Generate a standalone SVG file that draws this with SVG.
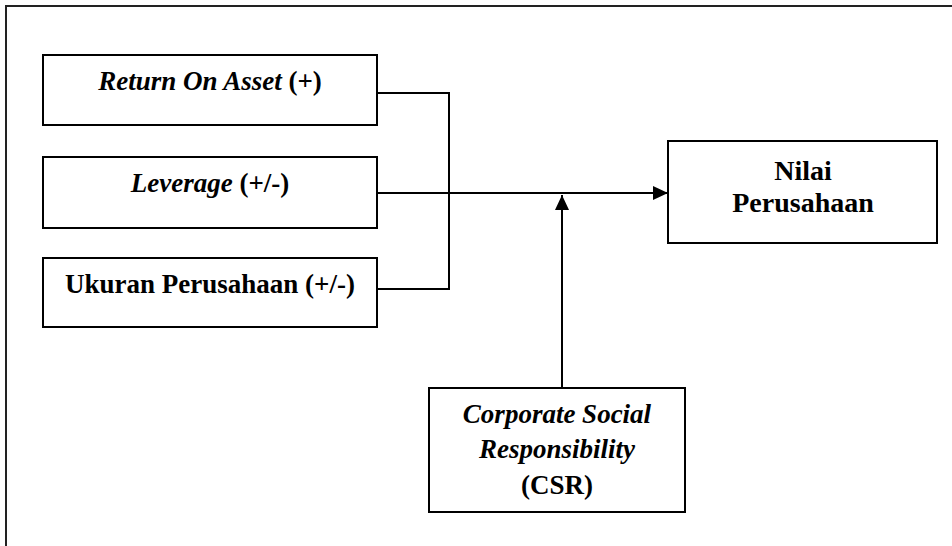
<svg xmlns="http://www.w3.org/2000/svg" width="952" height="546" viewBox="0 0 952 546">
<style>
.box{fill:#fff;stroke:#000;stroke-width:2}
.ln{fill:none;stroke:#000;stroke-width:2}
.t{font-family:"Liberation Serif","Times New Roman",serif;font-size:27px;font-weight:bold;fill:#000;text-anchor:middle}
.i{font-style:italic}
</style>
<defs>
<marker id="ah" viewBox="0 0 15 14" refX="15" refY="7" markerWidth="15" markerHeight="14" markerUnits="userSpaceOnUse" orient="auto">
<path d="M0,0 L15,7 L0,14 Z" fill="#000"/>
</marker>
</defs>
<path d="M6,547 V6 H953" fill="none" stroke="#222" stroke-width="2"/>
<g id="connectors">
<path class="ln" d="M377,93 H449 V289 H377"/>
<path class="ln" d="M377,193 H668" marker-end="url(#ah)"/>
<path class="ln" d="M562,388 V195" marker-end="url(#ah)"/>
</g>
<g id="roa">
<rect class="box" x="43" y="55" width="334" height="70"/>
<text class="t" x="210" y="90"><tspan class="i">Return On Asset</tspan> (+)</text>
</g>
<g id="leverage">
<rect class="box" x="43" y="157" width="334" height="71"/>
<text class="t" x="210" y="192"><tspan class="i">Leverage</tspan> (+/-)</text>
</g>
<g id="ukuran">
<rect class="box" x="43" y="258" width="334" height="69"/>
<text class="t" x="210" y="293">Ukuran Perusahaan (+/-)</text>
</g>
<g id="nilai">
<rect class="box" x="668" y="141" width="269" height="102"/>
<text class="t" x="803" y="180" style="font-size:28px">Nilai</text>
<text class="t" x="803" y="212" style="font-size:28px">Perusahaan</text>
</g>
<g id="csr">
<rect class="box" x="429" y="388" width="256" height="124"/>
<text class="t i" x="557" y="423">Corporate Social</text>
<text class="t i" x="557" y="458">Responsibility</text>
<text class="t" x="557" y="494">(CSR)</text>
</g>
</svg>
